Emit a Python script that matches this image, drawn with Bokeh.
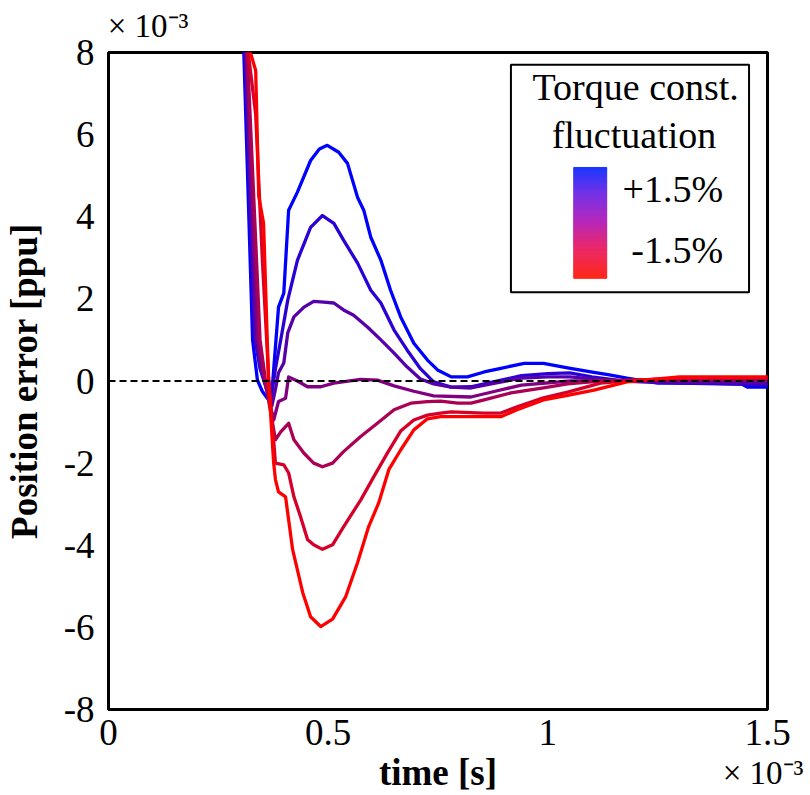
import numpy as np
from bokeh.plotting import figure
from bokeh.models import Span, Label, FixedTicker, ColumnDataSource, LinearAxis
from bokeh.embed import file_html
from bokeh.resources import INLINE

# ---------------- data (time in units of 1e-3 s, error in units of 1e-3 ppu)
series_names = ["+1.5%", "+1.0%", "+0.5%", "0%", "-0.5%", "-1.0%", "-1.5%"]

t1 = [0.308, 0.328, 0.339, 0.350, 0.362, 0.374, 0.387, 0.399, 0.410, 0.430, 0.460, 0.480,
      0.498, 0.524, 0.544, 0.567, 0.581, 0.597, 0.620, 0.642, 0.665, 0.695, 0.726, 0.749,
      0.780, 0.817, 0.855, 0.893, 0.946, 0.990, 1.045, 1.098, 1.140, 1.180, 1.250, 1.350,
      1.440, 1.455, 1.500]
e1 = [8.0, 1.0, 0.02, -0.25, -0.43, 0.0, 1.8, 2.14, 4.16, 4.6, 5.37, 5.65,
      5.74, 5.57, 5.3, 4.47, 4.16, 3.5, 2.94, 2.21, 1.56, 0.92, 0.51, 0.27,
      0.1, 0.1, 0.22, 0.31, 0.43, 0.43, 0.32, 0.22, 0.15, 0.07, -0.05, -0.05,
      -0.07, -0.15, -0.15]

t2 = [0.310, 0.332, 0.345, 0.369, 0.380, 0.392, 0.408, 0.430, 0.460, 0.487, 0.513, 0.535,
      0.567, 0.597, 0.620, 0.650, 0.680, 0.710, 0.740, 0.780, 0.825, 0.863, 0.940, 1.000,
      1.050, 1.100, 1.170, 1.300, 1.450, 1.500]
e2 = [8.0, 1.1, 0.3, -0.5, 0.3, 1.0, 1.97, 2.94, 3.74, 4.03, 3.84, 3.43,
      2.87, 2.21, 1.9, 1.24, 0.75, 0.3, -0.02, -0.15, -0.14, -0.05, 0.13, 0.18,
      0.2, 0.1, 0.0, -0.05, -0.08, -0.1]

t3 = [0.312, 0.335, 0.350, 0.372, 0.380, 0.387, 0.399, 0.408, 0.422, 0.445, 0.467, 0.490,
      0.513, 0.535, 0.558, 0.590, 0.620, 0.650, 0.680, 0.710, 0.740, 0.780, 0.825, 0.880,
      0.940, 1.000, 1.050, 1.100, 1.170, 1.300, 1.500]
e3 = [8.0, 1.0, 0.2, -0.6, -0.2, 0.2, 0.44, 1.17, 1.56, 1.8, 1.94, 1.92,
      1.9, 1.73, 1.6, 1.31, 1.0, 0.68, 0.34, 0.05, -0.07, -0.15, -0.17, -0.05,
      0.07, 0.1, 0.1, 0.05, 0.0, -0.03, -0.05]

t4 = [0.314, 0.340, 0.355, 0.376, 0.387, 0.403, 0.410, 0.430, 0.453, 0.483, 0.513, 0.574,
      0.612, 0.650, 0.695, 0.740, 0.825, 0.880, 0.940, 1.050, 1.170, 1.300, 1.500]
e4 = [8.0, 1.0, 0.0, -0.95, -0.5, -0.42, 0.1, 0.0, -0.14, -0.14, -0.05, 0.04,
      0.02, -0.12, -0.25, -0.36, -0.39, -0.25, -0.1, 0.0, 0.0, 0.02, 0.03]

t5 = [0.316, 0.345, 0.360, 0.380, 0.392, 0.410, 0.422, 0.445, 0.467, 0.487, 0.510, 0.535,
      0.574, 0.612, 0.650, 0.688, 0.726, 0.756, 0.795, 0.825, 0.855, 0.916, 0.990, 1.045,
      1.120, 1.300, 1.500]
e5 = [8.0, 1.0, -0.2, -1.43, -1.24, -1.03, -1.43, -1.76, -2.0, -2.09, -2.0, -1.72,
      -1.35, -1.03, -0.7, -0.54, -0.5, -0.49, -0.54, -0.54, -0.46, -0.29, -0.17, -0.07,
      0.0, 0.05, 0.05]

t6 = [0.318, 0.335, 0.350, 0.365, 0.380, 0.399, 0.410, 0.422, 0.437, 0.453, 0.467, 0.487,
      0.510, 0.535, 0.574, 0.604, 0.635, 0.665, 0.695, 0.726, 0.756, 0.780, 0.855, 0.893,
      0.930, 0.990, 1.045, 1.120, 1.200, 1.300, 1.500]
e6 = [8.0, 6.5, 3.0, 0.0, -2.0, -2.04, -2.24, -2.82, -3.3, -3.86, -3.99, -4.1,
      -3.99, -3.55, -2.9, -2.33, -1.75, -1.22, -0.95, -0.83, -0.78, -0.75, -0.78, -0.78,
      -0.63, -0.41, -0.27, -0.05, 0.02, 0.07, 0.08]

t7 = [0.323, 0.335, 0.342, 0.353, 0.364, 0.373, 0.376, 0.380, 0.387, 0.403, 0.410, 0.419,
      0.430, 0.442, 0.460, 0.483, 0.510, 0.540, 0.567, 0.592, 0.615, 0.638, 0.665, 0.695,
      0.726, 0.756, 0.825, 0.893, 0.930, 0.990, 1.045, 1.105, 1.180, 1.250, 1.300, 1.500]
e7 = [8.0, 7.56, 4.5, 3.84, 0.1, -1.5, -2.0, -2.4, -2.7, -2.82, -3.38, -4.1,
      -4.6, -5.15, -5.74, -5.98, -5.8, -5.25, -4.42, -3.55, -2.97, -2.16, -1.68, -1.19,
      -0.92, -0.87, -0.87, -0.87, -0.7, -0.46, -0.35, -0.22, -0.02, 0.05, 0.1, 0.1]

x_ticks = [0, 0.5, 1, 1.5]
x_tick_labels = ["0", "0.5", "1", "1.5"]
y_ticks = [-8, -6, -4, -2, 0, 2, 4, 6, 8]
y_tick_labels = ["-8", "-6", "-4", "-2", "0", "2", "4", "6", "8"]
exponent_text = "× 10⁻³"

legend_title = ["Torque const.", "fluctuation"]
legend_top_label = "+1.5%"
legend_bottom_label = "-1.5%"

times = [t1, t2, t3, t4, t5, t6, t7]
errors = [e1, e2, e3, e4, e5, e6, e7]

# ---------------- styling helpers
FONT = "Liberation Serif"

def curve_color(i, n):
    f = i / (n - 1)
    r = int(round(255 * f))
    b = int(round(255 * (1 - f)))
    return "#%02x%02x%02x" % (r, 0, b)

p = figure(width=810, height=795, x_range=(0, 1.5), y_range=(-8, 8),
           output_backend="svg", toolbar_location=None,
           min_border_left=108, min_border_right=43,
           min_border_top=52, min_border_bottom=85)
p.xgrid.visible = False
p.ygrid.visible = False
p.outline_line_color = "black"
p.outline_line_width = 3
p.background_fill_color = "white"
p.border_fill_color = "white"

xax = p.below[0]
yax = p.left[0]

def plain_axis(ax, size):
    ax.major_tick_line_color = None
    ax.minor_tick_line_color = None
    ax.major_tick_out = 0
    ax.major_tick_in = 0
    ax.minor_tick_out = 0
    ax.minor_tick_in = 0
    ax.axis_line_color = None
    ax.major_label_text_font = FONT
    ax.major_label_text_font_size = size
    ax.major_label_text_color = "black"

plain_axis(xax, "37px")
plain_axis(yax, "37px")

xax.ticker = FixedTicker(ticks=x_ticks)
xax.major_label_overrides = {k: v for k, v in zip(x_ticks, x_tick_labels)}
xax.major_label_standoff = 10
xax.axis_label = "time [s]"
xax.axis_label_text_font = FONT
xax.axis_label_text_font_style = "bold"
xax.axis_label_text_font_size = "37px"
xax.axis_label_standoff = 4
xax.axis_label_text_color = "black"

yax.ticker = FixedTicker(ticks=y_ticks)
yax.major_label_overrides = {k: v for k, v in zip(y_ticks, y_tick_labels)}
yax.major_label_standoff = 14
yax.axis_label = "Position error [ppu]"
yax.axis_label_text_font = FONT
yax.axis_label_text_font_style = "bold"
yax.axis_label_text_font_size = "37px"
yax.axis_label_standoff = 16
yax.axis_label_text_color = "black"

# "x 10^-3" scale markers as labels of extra, otherwise invisible axes
top_pos = 0.09
bot_pos = 1.49
top_ax = LinearAxis(ticker=FixedTicker(ticks=[top_pos]),
                    major_label_overrides={top_pos: exponent_text},
                    major_label_standoff=9)
plain_axis(top_ax, "33px")
p.add_layout(top_ax, "above")

bot_ax = LinearAxis(ticker=FixedTicker(ticks=[bot_pos]),
                    major_label_overrides={bot_pos: exponent_text},
                    major_label_standoff=-41)
plain_axis(bot_ax, "33px")
p.add_layout(bot_ax, "below")

# curves
n = len(times)
for i, (t, e) in enumerate(zip(times, errors)):
    src = ColumnDataSource(dict(t=t, e=e))
    p.line("t", "e", source=src, line_color=curve_color(i, n), line_width=3.3,
           line_join="round", line_cap="round")

# zero reference line
p.add_layout(Span(location=0, dimension="width", line_color="black",
                  line_width=2, line_dash="7 4"))

# legend box with gradient bar
p.quad(left=[0.916], right=[1.458], top=[7.70], bottom=[2.16],
       fill_color="white", line_color="black", line_width=2)

stops_t = [0.0, 0.24, 0.48, 0.72, 1.0]
stops_c = [(25, 55, 255), (115, 50, 230), (180, 40, 190), (232, 40, 110), (255, 40, 25)]
nseg = 110
edges = np.linspace(5.20, 2.50, nseg + 1)
cols = []
for k in range(nseg):
    f = (k + 0.5) / nseg
    rgb = [int(round(np.interp(f, stops_t, [c[j] for c in stops_c]))) for j in range(3)]
    cols.append("#%02x%02x%02x" % tuple(rgb))
p.quad(left=[1.059] * nseg, right=[1.134] * nseg, top=edges[:-1], bottom=edges[1:],
       fill_color=cols, line_color=cols, line_width=1)

def add_label(x, y, text, size, align="left", style="normal"):
    p.add_layout(Label(x=x, y=y, text=text,
                       text_font=FONT, text_font_size=size,
                       text_align=align, text_baseline="alphabetic",
                       text_font_style=style, text_color="black"))

add_label(1.200, 7.15, legend_title[0], "38px", "center")
add_label(1.196, 5.98, legend_title[1], "38px", "center")
add_label(1.399, 4.67, legend_top_label, "38px", "right")
add_label(1.399, 3.19, legend_bottom_label, "38px", "right")

open("out.html", "w").write(file_html(p, INLINE))
